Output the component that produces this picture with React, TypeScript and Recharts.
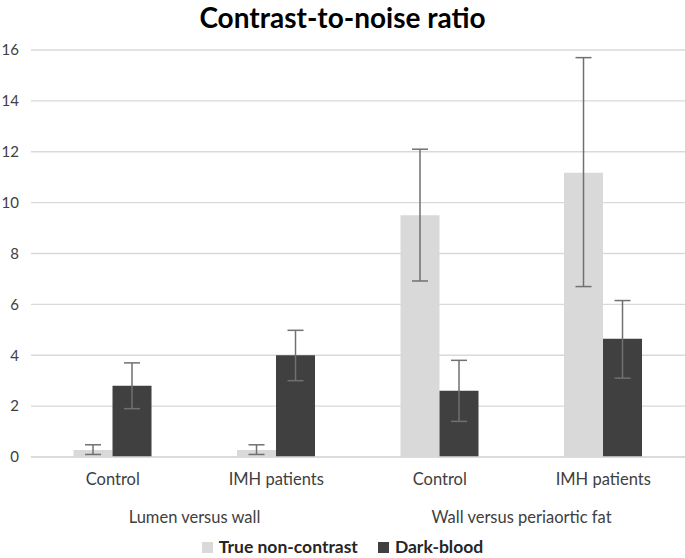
import React from 'react';
import { BarChart, Bar, XAxis, YAxis, CartesianGrid, Legend, ErrorBar } from 'recharts';

const categories = ['Control', 'IMH patients', 'Control', 'IMH patients'];
const groups = ['Lumen versus wall', 'Lumen versus wall', 'Wall versus periaortic fat', 'Wall versus periaortic fat'];

// True non-contrast: mean with lower / upper whisker ends
const tnc = [0.28, 0.28, 9.5, 11.17];
const tncLow = [0.1, 0.1, 6.92, 6.7];
const tncHigh = [0.48, 0.48, 12.1, 15.7];

// Dark-blood
const dark = [2.8, 4.0, 2.6, 4.65];
const darkLow = [1.9, 3.0, 1.4, 3.1];
const darkHigh = [3.7, 4.98, 3.8, 6.15];

const yTicks = [0, 2, 4, 6, 8, 10, 12, 14, 16];

const series = [
  { key: 'tnc', name: 'True non-contrast', color: '#d9d9d9' },
  { key: 'dark', name: 'Dark-blood', color: '#404040' },
];

const data = categories.map((c, i) => ({
  id: i,
  name: c,
  group: groups[i],
  tnc: tnc[i],
  tncErr: [tnc[i] - tncLow[i], tncHigh[i] - tnc[i]],
  dark: dark[i],
  darkErr: [dark[i] - darkLow[i], darkHigh[i] - dark[i]],
}));

const FONT = 'Lato, "Open Sans", sans-serif';

const CategoryTick = (props: any) => {
  const { x, y, payload } = props;
  return (
    <text x={x} y={y} dy={28} textAnchor="middle" fontSize={16.5} fill="#404040" fontFamily={FONT}>
      {categories[payload.value]}
    </text>
  );
};

const GroupTick = (props: any) => {
  const { x, y, payload, index } = props;
  if (index % 2 !== 0) return <g />;
  const half = payload.offset || 82;
  return (
    <text x={x + half} y={y} dy={26} textAnchor="middle" fontSize={16.5} fill="#404040" fontFamily={FONT}>
      {groups[payload.value]}
    </text>
  );
};

const LegendContent = () => (
  <div
    style={{
      display: 'flex',
      justifyContent: 'center',
      gap: 20,
      paddingTop: 5,
      fontFamily: FONT,
      fontWeight: 700,
      fontSize: 17.5,
      color: '#262626',
      lineHeight: '20px',
    }}
  >
    {series.map((s) => (
      <div key={s.key} style={{ display: 'flex', alignItems: 'center' }}>
        <span style={{ width: 11, height: 11, background: s.color, display: 'inline-block', marginRight: 6 }} />
        {s.name}
      </div>
    ))}
  </div>
);

export default function App() {
  return (
    <div style={{ position: 'absolute', left: 0, top: 0, width: 685, height: 558, background: '#fff' }}>
      <div
        style={{
          position: 'absolute',
          left: 0,
          top: 0,
          width: 685,
          textAlign: 'center',
          fontFamily: FONT,
          fontWeight: 700,
          fontSize: 28,
          color: '#000',
        }}
      >
        Contrast-to-noise ratio
      </div>
      <BarChart
        width={685}
        height={558}
        data={data}
        margin={{ top: 50, right: 0, left: 0, bottom: 0 }}
        barCategoryGap="26%"
        barGap={0}
      >
        <CartesianGrid vertical={false} stroke="#d9d9d9" strokeWidth={1.3} />
        <YAxis
          domain={[0, 16]}
          ticks={yTicks}
          width={31}
          axisLine={false}
          tickLine={false}
          tickSize={0}
          tickMargin={12}
          tick={{ fontSize: 15, fill: '#404040', fontFamily: FONT }}
        />
        <XAxis
          dataKey="id"
          height={40}
          axisLine={{ stroke: '#d9d9d9', strokeWidth: 1.3 }}
          tickLine={false}
          tickSize={0}
          tickMargin={0}
          interval={0}
          tick={<CategoryTick />}
        />
        <XAxis
          xAxisId="group"
          dataKey="id"
          height={35}
          axisLine={false}
          tickLine={false}
          tickSize={0}
          tickMargin={0}
          interval={0}
          tick={<GroupTick />}
        />
        <Legend verticalAlign="bottom" height={26} content={<LegendContent />} />
        <Bar dataKey="tnc" name="True non-contrast" fill="#d9d9d9" isAnimationActive={false}>
          <ErrorBar dataKey="tncErr" width={8} strokeWidth={1.5} stroke="#707070" direction="y" />
        </Bar>
        <Bar dataKey="dark" name="Dark-blood" fill="#404040" isAnimationActive={false}>
          <ErrorBar dataKey="darkErr" width={8} strokeWidth={1.5} stroke="#707070" direction="y" />
        </Bar>
      </BarChart>
    </div>
  );
}
